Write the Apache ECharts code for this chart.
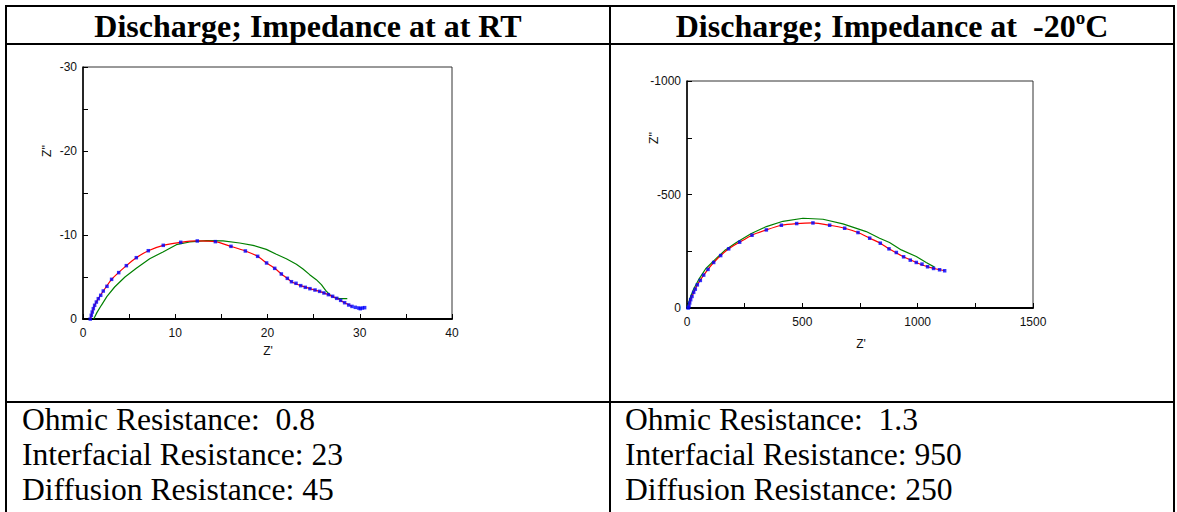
<!DOCTYPE html>
<html>
<head>
<meta charset="utf-8">
<script src="https://cdn.jsdelivr.net/npm/echarts@6/dist/echarts.min.js"></script>
<style>
  html, body { margin: 0; padding: 0; background: #fff; }
  #page { position: relative; width: 1177px; height: 512px; overflow: hidden; background: #fff; }
  .ln { position: absolute; background: #000; }
  .hdr { position: absolute; top: 10px; height: 32px; line-height: 32px; font-family: "Liberation Serif", "Times New Roman", serif; font-weight: bold; font-size: 32px; text-align: center; white-space: pre; color: #000; }
  .hdr .sup { font-size: 19px; position: relative; top: -13px; }
  .txt { position: absolute; top: 402px; font-family: "Liberation Serif", "Times New Roman", serif; font-size: 31.6px; line-height: 35px; white-space: pre; color: #000; }
  #chart { position: absolute; left: 0; top: 0; width: 1177px; height: 512px; }
</style>
</head>
<body>
<div id="page">
  <div class="ln" style="left:5px;top:5px;width:1170px;height:2px"></div>
  <div class="ln" style="left:5px;top:5px;width:2px;height:507px"></div>
  <div class="ln" style="left:1173px;top:5px;width:2px;height:507px"></div>
  <div class="ln" style="left:609px;top:5px;width:2px;height:507px"></div>
  <div class="ln" style="left:5px;top:43px;width:1170px;height:2px"></div>
  <div class="ln" style="left:5px;top:401px;width:1170px;height:2px"></div>

  <div class="hdr" style="left:7px;width:602px">Discharge; Impedance at at RT</div>
  <div class="hdr" style="left:611px;width:562px">Discharge; Impedance at  -20<span class="sup">o</span>C</div>

  <div class="txt" style="left:22px" id="txtL"></div>
  <div class="txt" style="left:625px" id="txtR"></div>

  <div id="chart"></div>
</div>
<script>
// ---------------- data ----------------
const resistanceLabels = ["Ohmic Resistance:  ", "Interfacial Resistance: ", "Diffusion Resistance: "];
const resistanceRT = ["0.8", "23", "45"];
const resistanceCold = ["1.3", "950", "250"];

// Room temperature: Z' (ohm), Z'' (ohm)
const rtMeasured = [
  [0.79, 0], [0.9, -0.44], [1.0, -0.83], [1.12, -1.23], [1.26, -1.63], [1.45, -2.02],
  [1.66, -2.42], [1.92, -2.82], [2.2, -3.33], [2.6, -3.89], [3.1, -4.72], [3.87, -5.52],
  [4.7, -6.35], [5.78, -7.3], [7.08, -8.13], [8.7, -8.77], [10.59, -9.13], [12.39, -9.29],
  [14.35, -9.21], [16.04, -8.65], [17.6, -8.1], [18.93, -7.46], [19.9, -6.67], [20.78, -6.03],
  [21.5, -5.36], [22.15, -4.84], [22.6, -4.44], [23.09, -4.25], [23.6, -3.97], [24.1, -3.77],
  [24.6, -3.61], [25.15, -3.45], [25.65, -3.29], [26.12, -3.1], [26.6, -2.9], [27.06, -2.7],
  [27.5, -2.46], [27.93, -2.22], [28.36, -1.94], [28.8, -1.67], [29.16, -1.5], [29.52, -1.39],
  [29.88, -1.31], [30.06, -1.23], [30.28, -1.31], [30.53, -1.35]
];
const rtFitRed = [
  [0.79, 0], [1.0, -0.83], [1.26, -1.63], [1.66, -2.42], [2.2, -3.33], [3.1, -4.72],
  [4.7, -6.35], [5.78, -7.3], [7.08, -8.13], [8.7, -8.77], [10.59, -9.13], [12.39, -9.29],
  [14.35, -9.21], [16.04, -8.65], [17.6, -8.1], [18.93, -7.46], [19.9, -6.67], [20.78, -6.03],
  [21.5, -5.36], [22.15, -4.84], [22.6, -4.44], [23.6, -3.97], [24.6, -3.61], [25.65, -3.29],
  [26.6, -2.9], [27.5, -2.46], [28.36, -1.94], [29.16, -1.5]
];
const rtFitGreen = [
  [1.16, 0], [1.52, -0.79], [1.99, -1.63], [2.6, -2.7], [3.43, -3.81], [4.55, -5.0],
  [5.78, -6.03], [7.23, -7.18], [8.67, -7.98], [10.12, -8.85], [11.56, -9.17], [13.37, -9.33],
  [15.18, -9.29], [16.98, -9.05], [18.43, -8.77], [19.87, -8.29], [20.96, -7.7], [22.04, -7.18],
  [23.13, -6.51], [23.85, -5.95], [24.57, -5.28], [25.29, -4.68], [25.84, -4.09], [26.3, -3.41],
  [26.74, -2.9], [27.28, -2.54], [27.82, -2.42], [28.65, -2.42]
];

// -20 C
const coldMeasured = [
  [5, 0], [8.7, -7], [11.6, -22], [15.9, -36.6], [21.7, -51], [28.9, -68.8], [36, -83],
  [44.8, -102], [57.8, -121.5], [72.3, -145], [91, -170], [115.6, -200.6], [146, -231],
  [180.6, -260.6], [228.3, -290], [281.8, -320.6], [344, -344], [409, -364.6], [475.4, -372],
  [546, -374.8], [618.5, -364.6], [683.5, -351.4], [741.3, -332.4], [792, -307.5], [838, -285.5],
  [875.7, -260.6], [907.5, -244.5], [939, -225.5], [968, -210.8], [994, -200.6], [1018.8, -193.3],
  [1043, -181.6], [1069, -174.2], [1095, -168.4], [1117, -164]
];
const coldFitRed = [
  [2, 0], [8.7, -7], [15.9, -36.6], [28.9, -68.8], [44.8, -102], [72.3, -145], [115.6, -200.6],
  [180.6, -260.6], [228.3, -290], [281.8, -320.6], [344, -344], [409, -364.6], [475.4, -372],
  [546, -374.8], [618.5, -364.6], [683.5, -351.4], [741.3, -332.4], [792, -307.5], [838, -285.5],
  [875.7, -260.6], [939, -225.5], [994, -200.6], [1043, -181.6], [1095, -168.4], [1117, -164]
];
const coldFitGreen = [
  [1.4, 0], [11.6, -39.5], [28.9, -83.5], [52, -127.4], [81, -172.8], [120, -212], [163, -253],
  [214, -288.4], [279, -328], [344, -358.7], [416, -382], [503, -395.3], [589.6, -391],
  [676, -370.4], [777, -336.7], [835, -307.5], [878, -288.4], [929, -256], [994, -227],
  [1037, -200.6], [1073, -180]
];

const rtXTicks = { min: 0, max: 40, interval: 5, labelStep: 10 };
const rtYTicks = { min: -30, max: 0, interval: 5, labelStep: 10 };
const coldXTicks = { min: 0, max: 1500, interval: 250, labelStep: 500 };
const coldYTicks = { min: -1000, max: 0, interval: 250, labelStep: 500 };

// ---------------- text ----------------
document.getElementById('txtL').textContent = resistanceLabels.map((l, i) => l + resistanceRT[i]).join('\n');
document.getElementById('txtR').textContent = resistanceLabels.map((l, i) => l + resistanceCold[i]).join('\n');

// ---------------- chart ----------------
const FONT = '"Liberation Sans", Arial, sans-serif';
function mkAxis(t, idx, isY, lineW) {
  return {
    type: 'value', gridIndex: idx, min: t.min, max: t.max, interval: t.interval,
    inverse: isY,
    axisLine: { show: true, onZero: false, lineStyle: { color: '#000', width: lineW } },
    axisTick: { show: true, inside: true, length: 5, lineStyle: { color: '#000', width: 1 } },
    axisLabel: {
      show: true, interval: 0, margin: isY ? 6 : 8,
      color: '#111', fontFamily: FONT, fontSize: 12,
      formatter: v => (Math.abs(v % t.labelStep) < 1e-9 ? String(v) : '')
    },
    splitLine: { show: false }
  };
}
const chart = echarts.init(document.getElementById('chart'), null, { renderer: 'svg' });
const gridStyle = { show: true, borderColor: '#333', borderWidth: 1, backgroundColor: 'transparent', containLabel: false };
chart.setOption({
  animation: false,
  backgroundColor: 'transparent',
  grid: [
    Object.assign({ left: 83, top: 67, width: 369, height: 252 }, gridStyle),
    Object.assign({ left: 687, top: 81, width: 346, height: 227 }, gridStyle)
  ],
  xAxis: [mkAxis(rtXTicks, 0, false, 2), mkAxis(coldXTicks, 1, false, 2)],
  yAxis: [mkAxis(rtYTicks, 0, true, 1.5), mkAxis(coldYTicks, 1, true, 1.5)],
  series: [
    { type: 'line', xAxisIndex: 0, yAxisIndex: 0, data: rtFitGreen, showSymbol: false, lineStyle: { color: '#008000', width: 1.2 }, z: 2 },
    { type: 'line', xAxisIndex: 0, yAxisIndex: 0, data: rtFitRed, showSymbol: false, smooth: 0.2, lineStyle: { color: '#ff0000', width: 1.2 }, z: 3 },
    { type: 'scatter', xAxisIndex: 0, yAxisIndex: 0, data: rtMeasured, symbol: 'rect', symbolSize: 3.5, itemStyle: { color: '#0000ff' }, z: 4 },
    { type: 'line', xAxisIndex: 1, yAxisIndex: 1, data: coldFitGreen, showSymbol: false, lineStyle: { color: '#008000', width: 1.2 }, z: 2 },
    { type: 'line', xAxisIndex: 1, yAxisIndex: 1, data: coldFitRed, showSymbol: false, smooth: 0.2, lineStyle: { color: '#ff0000', width: 1.2 }, z: 3 },
    { type: 'scatter', xAxisIndex: 1, yAxisIndex: 1, data: coldMeasured, symbol: 'rect', symbolSize: 3.5, itemStyle: { color: '#0000ff' }, z: 4 }
  ],
  graphic: [
    { type: 'text', x: 268, y: 351, style: { text: "Z'", font: '12px ' + FONT, fill: '#111', align: 'center', verticalAlign: 'middle' } },
    { type: 'text', x: 47, y: 151, rotation: Math.PI / 2, style: { text: "Z''", font: '12px ' + FONT, fill: '#111', align: 'center', verticalAlign: 'middle' } },
    { type: 'text', x: 861, y: 344, style: { text: "Z'", font: '12px ' + FONT, fill: '#111', align: 'center', verticalAlign: 'middle' } },
    { type: 'text', x: 654, y: 138, rotation: Math.PI / 2, style: { text: "Z''", font: '12px ' + FONT, fill: '#111', align: 'center', verticalAlign: 'middle' } }
  ]
});
</script>
</body>
</html>
